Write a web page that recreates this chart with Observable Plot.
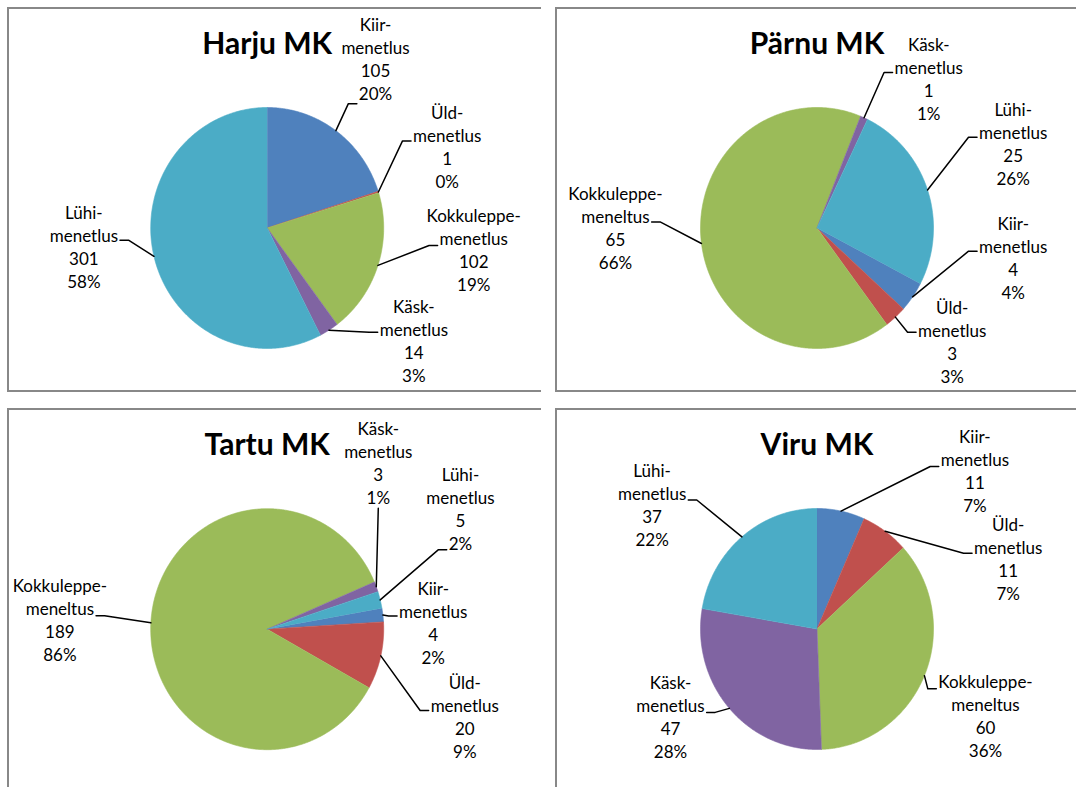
<!DOCTYPE html>
<html><head><meta charset="utf-8">
<script src="https://cdn.jsdelivr.net/npm/d3@7"></script>
<script src="https://cdn.jsdelivr.net/npm/@observablehq/plot@0.6"></script>
<style>
body{margin:0;background:#fff;}
#root{position:relative;width:1076px;height:787px;overflow:hidden;background:#fff;}
.box{position:absolute;box-sizing:border-box;border:0 solid #888;}
.plot{position:absolute;}
.plot svg{overflow:visible;display:block;}
</style></head><body><div id="root"></div>
<script>
// ---------- data ----------
const procedures = ["Kiir-", "Üld-", "Kokkuleppe-", "Käsk-", "Lühi-"];
const procedureColors = ["#4F81BD", "#C0504D", "#9BBB59", "#8064A2", "#4BACC6"];
const regionTitles = ["Harju MK", "Pärnu MK", "Tartu MK", "Viru MK"];

const harjuValues = [105, 1, 102, 14, 301];
const harjuPercents = ["20%", "0%", "19%", "3%", "58%"];
const harjuWords = ["menetlus", "menetlus", "menetlus", "menetlus", "menetlus"];

const parnuValues = [4, 3, 65, 1, 25];
const parnuPercents = ["4%", "3%", "66%", "1%", "26%"];
const parnuWords = ["menetlus", "menetlus", "meneltus", "menetlus", "menetlus"];

const tartuValues = [4, 20, 189, 3, 5];
const tartuPercents = ["2%", "9%", "86%", "1%", "2%"];
const tartuWords = ["menetlus", "menetlus", "meneltus", "menetlus", "menetlus"];

const viruValues = [11, 11, 60, 47, 37];
const viruPercents = ["7%", "7%", "36%", "28%", "22%"];
const viruWords = ["menetlus", "menetlus", "meneltus", "menetlus", "menetlus"];

// ---------- layout (not data) ----------
const RX = 116.5, RY = 120.5;         // pie radius in px (horizontal / vertical)
const FS = 17, LH = 23;                // label font size and line height (px)
const FONT = "Lato, 'Open Sans', sans-serif";
// label placement: [angle deg clockwise from 12 o'clock, distance in pie radii, attach side, attach line]
const panels = [
  {values: harjuValues, percents: harjuPercents, words: harjuWords, title: regionTitles[0],
   left: 7, top: 7, width: 534, height: 385, border: "2px 0 2px 2px", cx: 259.7, cy: 220.5, start: 0,
   place: [[33.7, 1.676, "left", 3.4], [66.7, 1.682, "left", 1.2], [96.1, 1.783, "left", 1.27], [126.8, 1.572, "left", 1.1], [264.2, 1.582, "right", 1.19]]},
  {values: parnuValues, percents: parnuPercents, words: parnuWords, title: regionTitles[1],
   left: 555, top: 7, width: 521, height: 385, border: "2px 0 2px 2px", cx: 261.5, cy: 220.5, start: 117.5,
   place: [[98.5, 1.703, "left", 1.19], [129.4, 1.502, "left", 1.04], [269.9, 1.730, "right", 1.22], [37.9, 1.561, "left", 1.19], [67.7, 1.820, "left", 1.17]]},
  {values: tartuValues, percents: tartuPercents, words: tartuWords, title: regionTitles[2],
   left: 7, top: 408, width: 534, height: 379, border: "2px 0 0 2px", cx: 259.7, cy: 220.7, start: 80,
   place: [[88.0, 1.426, "left", 1.19], [113.4, 1.848, "left", 1.19], [272.2, 1.781, "right", 1.27], [34.7, 1.675, "bottom", 3.46], [59.1, 1.933, "left", 3.25]]},
  {values: viruValues, percents: viruPercents, words: viruWords, title: regionTitles[3],
   left: 555, top: 408, width: 521, height: 379, border: "2px 0 0 2px", cx: 261.5, cy: 220.5, start: 0,
   place: [[46.0, 1.884, "left", 1.29], [70.7, 1.739, "left", 1.22], [116.7, 1.619, "left", 0.29], [239.6, 1.458, "right", 1.26], [305.8, 1.745, "right", 1.24]]}
];

const ctx = document.createElement("canvas").getContext("2d");
ctx.font = `${FS}px Lato`;
const measure = (s) => ctx.measureText(s).width;
const rad = (d) => d * Math.PI / 180;

const root = document.getElementById("root");

for (const p of panels) {
  const arcs = d3.pie().sort(null).startAngle(rad(p.start)).endAngle(rad(p.start + 360))(p.values);

  const wedges = [];
  arcs.forEach((a, i) => {
    const name = procedures[i];
    wedges.push({name, x: 0, y: 0});
    const n = Math.max(2, Math.ceil((a.endAngle - a.startAngle) / rad(0.5)));
    for (let k = 0; k <= n; k++) {
      const t = a.startAngle + (a.endAngle - a.startAngle) * k / n;
      wedges.push({name, x: Math.sin(t), y: -Math.cos(t)});
    }
  });

  const labels = [], leaders = [];
  arcs.forEach((a, i) => {
    const [ang, dist, side, at] = p.place[i];
    const lx = dist * Math.sin(rad(ang)), ly = -dist * Math.cos(rad(ang));
    const lines = [procedures[i], p.words[i], String(p.values[i]), p.percents[i]];
    labels.push({x: lx, y: ly, text: lines.join("\n")});
    const mid = (a.startAngle + a.endAngle) / 2;
    const ex = Math.sin(mid), ey = -Math.cos(mid);
    const w = measure(lines[Math.max(0, Math.min(3, Math.round(at)))]);
    const ay = (at - 1.5) * LH;
    let ax, bx;
    if (side === "left") { ax = -(w / 2 + 2); bx = ax - 8.5; }
    else if (side === "right") { ax = w / 2 + 2; bx = ax + 8.5; }
    else { ax = 0; bx = 0; }
    const id = procedures[i];
    leaders.push({id, x: ex, y: ey});
    leaders.push({id, x: lx + bx / RX, y: ly + ay / RY});
    leaders.push({id, x: lx + ax / RX, y: ly + ay / RY});
  });

  const box = document.createElement("div");
  box.className = "box";
  Object.assign(box.style, {left: p.left + "px", top: p.top + "px", width: p.width + "px", height: p.height + "px", borderWidth: p.border});
  root.appendChild(box);

  const chart = Plot.plot({
    width: p.width, height: p.height, margin: 0,
    x: {domain: [-p.cx / RX, (p.width - p.cx) / RX], range: [0, p.width], axis: null},
    y: {domain: [-p.cy / RY, (p.height - p.cy) / RY], range: [0, p.height], axis: null},
    color: {domain: procedures, range: procedureColors},
    marks: [
      Plot.line(wedges, {x: "x", y: "y", z: "name", fill: "name", stroke: "name", strokeWidth: 0.6, curve: "linear"}),
      Plot.line(leaders, {x: "x", y: "y", z: "id", stroke: "#000", strokeWidth: 1.5, curve: "linear"}),
      Plot.text(labels, {x: "x", y: "y", text: "text", fontSize: FS, lineHeight: LH / FS, fontFamily: FONT,
        textAnchor: "middle", lineAnchor: "middle", fill: "#000", dy: -1.5}),
      Plot.text([p.title], {x: () => 0, frameAnchor: "top", dy: 37, text: d => d, fontSize: 30, fontWeight: "bold",
        fontFamily: FONT, textAnchor: "middle", lineAnchor: "middle", fill: "#000"})
    ]
  });
  const holder = document.createElement("div");
  holder.className = "plot";
  Object.assign(holder.style, {left: p.left + "px", top: p.top + "px"});
  holder.appendChild(chart);
  root.appendChild(holder);
}
</script></body></html>
